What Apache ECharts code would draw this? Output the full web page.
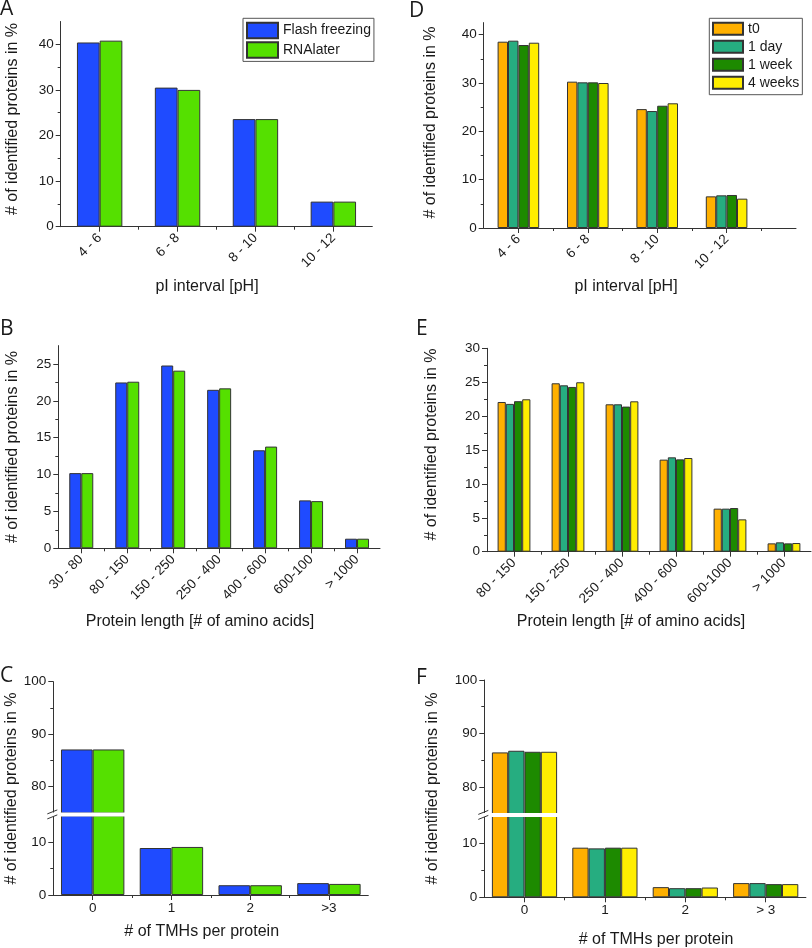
<!DOCTYPE html>
<html><head><meta charset="utf-8">
<script src="https://cdn.jsdelivr.net/npm/echarts@6/dist/echarts.min.js"></script>
<style>html,body{margin:0;padding:0;background:#fff}#c{width:812px;height:948px}</style>
</head><body><div id="c"></div>
<script>
// ---------- DATA ----------
const pICats = ['4 - 6', '6 - 8', '8 - 10', '10 - 12'];
const pIFlash = [40.4, 30.5, 23.6, 5.5];
const pIRNA = [40.8, 30.0, 23.6, 5.5];

const lenCatsB = ['30 - 80', '80 - 150', '150 - 250', '250 - 400', '400 - 600', '600-100', '> 1000'];
const lenFlash = [10.2, 22.5, 24.8, 21.5, 13.3, 6.5, 1.3];
const lenRNA = [10.2, 22.6, 24.1, 21.7, 13.8, 6.4, 1.3];

const tmhCatsC = ['0', '1', '2', '>3'];
const tmhFlash = [87.1, 8.9, 1.85, 2.25];
const tmhRNA = [87.1, 9.1, 1.85, 2.1];

const methodNames = ['Flash freezing', 'RNAlater'];
const storageNames = ['t0', '1 day', '1 week', '4 weeks'];

const pIt0 = [38.55, 30.28, 24.6, 6.55];
const pI1d = [38.76, 30.14, 24.2, 6.76];
const pI1w = [37.86, 30.14, 25.3, 6.83];
const pI4w = [38.34, 30.0, 25.8, 6.07];

const lenCatsE = ['80 - 150', '150 - 250', '250 - 400', '400 - 600', '600-1000', '> 1000'];
const lent0 = [22.08, 24.84, 21.74, 13.58, 6.35, 1.23];
const len1d = [21.8, 24.54, 21.74, 13.92, 6.35, 1.38];
const len1w = [22.2, 24.3, 21.4, 13.62, 6.44, 1.23];
const len4w = [22.48, 24.99, 22.18, 13.82, 4.77, 1.28];

const tmhCatsF = ['0', '1', '2', '> 3'];
const tmht0 = [86.44, 9.19, 1.88, 2.63];
const tmh1d = [86.75, 9.06, 1.69, 2.63];
const tmh1w = [86.56, 9.19, 1.69, 2.44];
const tmh4w = [86.56, 9.19, 1.81, 2.44];

// tick values
const yTicksA = [0, 10, 20, 30, 40];       const yMinorA = [5, 15, 25, 35];
const yTicksB = [0, 5, 10, 15, 20, 25];    const yMinorB = [2.5, 7.5, 12.5, 17.5, 22.5];
const yTicksD = [0, 10, 20, 30, 40];       const yMinorD = [5, 15, 25, 35];
const yTicksE = [0, 5, 10, 15, 20, 25, 30]; const yMinorE = [2.5, 7.5, 12.5, 17.5, 22.5, 27.5];
const yTicksLow = [0, 10];                 const yMinorLow = [5];
const yTicksHigh = [80, 90, 100];          const yMinorHigh = [75, 85, 95];

// ---------- STYLE ----------
const FONT = "'Liberation Sans', Arial, sans-serif";
const AX = '#333';
const TXT = '#1a1a1a';
const methodColors = ['#1f4bff', '#55e000'];
const storageColors = ['#ffb000', '#26ad80', '#1d8a00', '#ffee00'];

const option = {
  animation: false, backgroundColor: '#fff',
  grid: [], xAxis: [], yAxis: [], series: [], legend: [], graphic: []
};

function addGrid(l, t, w, h) {
  option.grid.push({ left: l, top: t, width: w, height: h });
  return option.grid.length - 1;
}

function addX(gi, xMax, labels, rotate, visible) {
  const centers = labels.map((_, i) => i + 1);
  const bounds = [];
  for (let b = 1.5; b < xMax; b += 1) bounds.push(b);
  const base = { type: 'value', gridIndex: gi, min: 0.5, max: xMax, interval: 0.5,
    position: 'bottom', offset: 0, show: visible, splitLine: { show: false } };
  option.xAxis.push(Object.assign({}, base, {
    axisLine: { show: true, onZero: false, lineStyle: { color: AX, width: 1 } },
    axisTick: { show: true, customValues: centers, length: 5, lineStyle: { color: AX } },
    axisLabel: { show: true, customValues: centers, rotate: rotate, margin: rotate ? 9 : 6,
      fontSize: 13.5, fontFamily: FONT, color: TXT,
      formatter: v => labels[Math.round(v) - 1] || '' }
  }));
  const xi = option.xAxis.length - 1;
  option.xAxis.push(Object.assign({}, base, {
    axisLine: { show: false, onZero: false },
    axisTick: { show: true, customValues: bounds, length: 3, lineStyle: { color: AX } },
    axisLabel: { show: false }
  }));
  return xi;
}

function addY(gi, min, max, step, majors, minors) {
  const base = { type: 'value', gridIndex: gi, min: min, max: max, interval: step,
    position: 'left', offset: 0, splitLine: { show: false } };
  option.yAxis.push(Object.assign({}, base, {
    axisLine: { show: true, onZero: false, lineStyle: { color: AX, width: 1 } },
    axisTick: { show: true, customValues: majors, length: 5, lineStyle: { color: AX } },
    axisLabel: { show: true, customValues: majors, margin: 7, fontSize: 13.5, fontFamily: FONT, color: TXT }
  }));
  const yi = option.yAxis.length - 1;
  option.yAxis.push(Object.assign({}, base, {
    axisLine: { show: false, onZero: false },
    axisTick: { show: true, customValues: minors, length: 3, lineStyle: { color: AX } },
    axisLabel: { show: false }
  }));
  return yi;
}

function addBars(xi, yi, names, colors, arrays, barWidth, floor) {
  arrays.forEach((arr, k) => {
    option.series.push({
      type: 'bar', name: names[k], xAxisIndex: xi, yAxisIndex: yi,
      barWidth: barWidth, barGap: '0%', clip: true,
      itemStyle: { color: colors[k], borderColor: '#333', borderWidth: 1 },
      emphasis: { disabled: true },
      data: arr.map((v, i) => [i + 1, (floor != null && v < floor) ? '-' : v])
    });
  });
}

function txt(id, text, x, y, size, rot, family, align) {
  option.graphic.push({
    type: 'text', id: id, x: x, y: y, rotation: rot || 0, z: 50,
    style: { text: text, fontSize: size, fontFamily: family || FONT, fill: TXT,
      align: align || 'center', verticalAlign: 'middle',
      textAlign: align || 'center', textVerticalAlign: 'middle' }
  });
}

// ---------- PANEL A ----------
let g = addGrid(60.7, 21.5, 311.6, 205.2);
let xi = addX(g, 4.5, pICats, 45, true);
let yi = addY(g, 0, 45, 10, yTicksA, yMinorA);
addBars(xi, yi, methodNames, methodColors, [pIFlash, pIRNA], 22.7);

// ---------- PANEL B ----------
g = addGrid(58.3, 345.6, 321.7, 202.7);
xi = addX(g, 7.5, lenCatsB, 45, true);
yi = addY(g, 0, 27.5, 5, yTicksB, yMinorB);
addBars(xi, yi, methodNames, methodColors, [lenFlash, lenRNA], 12);

// ---------- PANEL C (broken axis) ----------
const gCu = addGrid(53.3, 681.7, 315, 131.3);
const xCu = addX(gCu, 4.5, tmhCatsC, 0, false);
const yCu = addY(gCu, 75, 100, 5, yTicksHigh, yMinorHigh);
addBars(xCu, yCu, methodNames, methodColors, [tmhFlash, tmhRNA], 31.7, 75);
const gCl = addGrid(53.3, 815.8, 315, 79.2);
const xCl = addX(gCl, 4.5, tmhCatsC, 0, true);
const yCl = addY(gCl, 0, 15, 5, yTicksLow, yMinorLow);
addBars(xCl, yCl, methodNames, methodColors, [tmhFlash, tmhRNA], 31.7);

// ---------- PANEL D ----------
g = addGrid(483.7, 22.6, 312.3, 205.4);
xi = addX(g, 5, pICats, 45, true);
yi = addY(g, 0, 42.5, 10, yTicksD, yMinorD);
addBars(xi, yi, storageNames, storageColors, [pIt0, pI1d, pI1w, pI4w], 10.4);

// ---------- PANEL E ----------
g = addGrid(487, 348.3, 324, 203.4);
xi = addX(g, 6.5, lenCatsE, 45, true);
yi = addY(g, 0, 30, 5, yTicksE, yMinorE);
addBars(xi, yi, storageNames, storageColors, [lent0, len1d, len1w, len4w], 8.2);

// ---------- PANEL F (broken axis) ----------
const gFu = addGrid(484.3, 680, 321.6, 133.5);
const xFu = addX(gFu, 4.5, tmhCatsF, 0, false);
const yFu = addY(gFu, 75, 100, 5, yTicksHigh, yMinorHigh);
addBars(xFu, yFu, storageNames, storageColors, [tmht0, tmh1d, tmh1w, tmh4w], 16.3, 75);
const gFl = addGrid(484.3, 816.3, 321.6, 81);
const xFl = addX(gFl, 4.5, tmhCatsF, 0, true);
const yFl = addY(gFl, 0, 15, 5, yTicksLow, yMinorLow);
addBars(xFl, yFl, storageNames, storageColors, [tmht0, tmh1d, tmh1w, tmh4w], 16.3);

// ---------- LEGENDS ----------
option.legend.push({
  data: methodNames, orient: 'vertical', left: 243, top: 18.3,
  itemWidth: 31, itemHeight: 15.5, itemGap: 2, icon: 'rect', selectedMode: false,
  padding: [3.4, 3, 2.7, 3], borderColor: '#555', borderWidth: 1, backgroundColor: '#fff',
  textStyle: { fontSize: 14, fontFamily: FONT, color: TXT, lineHeight: 15.5 }
});
option.legend.push({
  data: storageNames, orient: 'vertical', left: 709.3, top: 18.3,
  itemWidth: 30, itemHeight: 12, itemGap: 4, icon: 'rect', selectedMode: false,
  padding: [3.4, 3, 5, 2.7], borderColor: '#555', borderWidth: 1, backgroundColor: '#fff',
  textStyle: { fontSize: 14, fontFamily: FONT, color: TXT, lineHeight: 12 }
});

// ---------- TEXTS ----------
const LETTER = "'Open Sans', 'Noto Sans', sans-serif";
txt('lA', 'A', 0, 9, 21, 0, LETTER, 'left');
txt('lB', 'B', 0, 329.5, 21, 0, LETTER, 'left');
txt('lC', 'C', 0, 676.5, 21, 0, LETTER, 'left');
txt('lD', 'D', 409, 10.8, 21, 0, LETTER, 'left');
txt('lE', 'E', 416, 329.5, 21, 0, LETTER, 'left');
txt('lF', 'F', 416, 678, 21, 0, LETTER, 'left');

const yName = '# of identified proteins in %';
txt('yA', yName, 13, 119, 16, Math.PI / 2);
txt('yB', yName, 12.5, 447, 16, Math.PI / 2);
txt('yC', yName, 11.5, 788.5, 16, Math.PI / 2);
txt('yD', yName, 431, 122.5, 16, Math.PI / 2);
txt('yE', yName, 431.5, 444.5, 16, Math.PI / 2);
txt('yF', yName, 432.5, 788.5, 16, Math.PI / 2);

txt('xA', 'pI interval [pH]', 207, 287, 16);
txt('xD', 'pI interval [pH]', 626, 287, 16);
txt('xB', 'Protein length [# of amino acids]', 200, 621.5, 16);
txt('xE', 'Protein length [# of amino acids]', 631, 621.5, 16);
txt('xC', '# of TMHs per protein', 201.7, 931.5, 16);
txt('xF', '# of TMHs per protein', 656, 939.5, 16);

const chart = echarts.init(document.getElementById('c'), null, { renderer: 'canvas' });
chart.setOption(option);

// ---------- AXIS BREAK DECORATION (positioned from the axes) ----------
function addBreak(id, xu, yu, xl, yl, xMax) {
  const top = chart.convertToPixel({ xAxisIndex: xu, yAxisIndex: yu }, [0.5, 75]);
  const bot = chart.convertToPixel({ xAxisIndex: xl, yAxisIndex: yl }, [xMax, 15]);
  const ax = top[0];
  const y1 = top[1] - 0.6, y2 = bot[1] + 0.6;
  option.graphic.push({ type: 'rect', id: id + 'r', z: 60,
    shape: { x: ax - 8, y: y1, width: bot[0] - ax + 8, height: y2 - y1 },
    style: { fill: '#fff' } });
  option.graphic.push({ type: 'line', id: id + 'a', z: 61,
    shape: { x1: ax - 6, y1: y1 + 1.5, x2: ax + 4, y2: y1 - 2.5 }, style: { stroke: AX, lineWidth: 1 } });
  option.graphic.push({ type: 'line', id: id + 'b', z: 61,
    shape: { x1: ax - 6, y1: y2 + 2.5, x2: ax + 4, y2: y2 - 1.5 }, style: { stroke: AX, lineWidth: 1 } });
}
addBreak('bC', xCu, yCu, xCl, yCl, 4.5);
addBreak('bF', xFu, yFu, xFl, yFl, 4.5);
chart.setOption(option, true);
</script>
</body></html>
